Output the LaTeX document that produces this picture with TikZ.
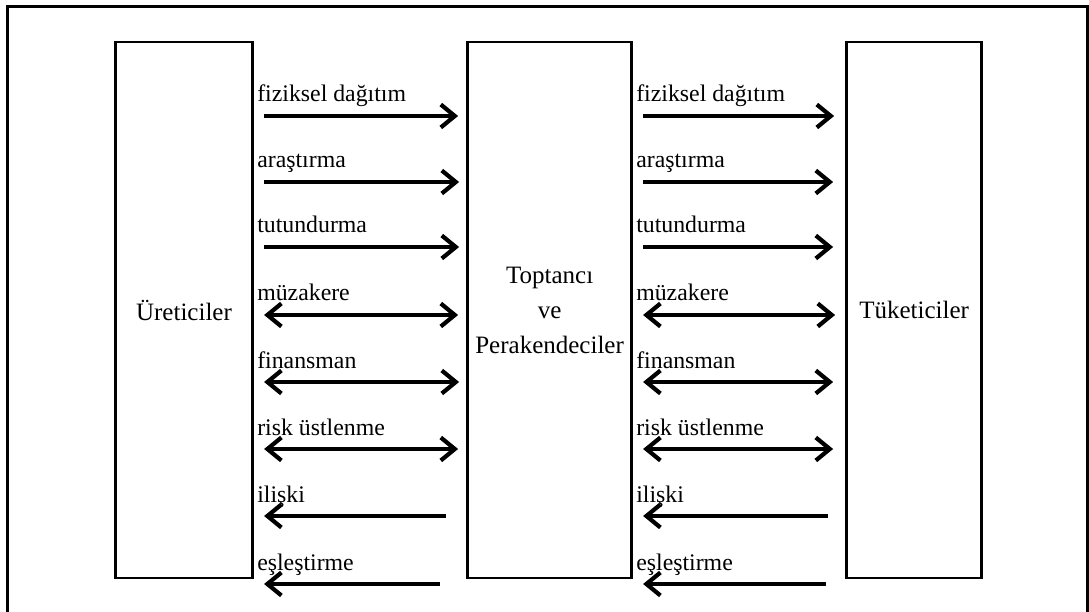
\documentclass[tikz,border=0pt]{standalone}
\usepackage{fontspec}
\setmainfont{Liberation Serif}
\usetikzlibrary{arrows.meta, positioning, calc}

\begin{document}
\begin{tikzpicture}[
  x=1pt, y=-1pt,
  % ── Style definitions ──
  party/.style={
    rectangle, draw=black, line width=2.7pt,
    minimum height=536pt, align=center, inner sep=0pt,
    font=\fontsize{25}{35}\selectfont
  },
  flowlbl/.style={anchor=base west, inner sep=0pt,
    font=\fontsize{23.8}{28}\selectfont},
  flow/.style   ={line width=4.2pt, black},
  toright/.style={flow, -{Straight Barb[length=14pt, width=23pt]}},
  toleft/.style ={flow, {Straight Barb[length=14pt, width=23pt]}-},
  twoway/.style ={flow, {Straight Barb[length=14pt, width=23pt]}-{Straight Barb[length=14pt, width=23pt]}},
  % ── Node placement ──
  node distance=212pt
]
\useasboundingbox (0,0) rectangle (1089,612);

% ─────────── Outer frame ────────────────────────────────────
\draw[line width=3pt] (7.5,612) -- (7.5,6.7) -- (1087.5,6.7) -- (1087.5,612);

% ─────────── Channel members ────────────────────────────────
\node[party, minimum width=137.5pt] (prod) at (184,310) {Üreticiler};
\node[party, minimum width=164.3pt, right=of prod] (mid)  {Toptancı\\ve\\Perakendeciler};
\node[party, minimum width=135.3pt, right=of mid]  (cons) {Tüketiciler};

% ─────────── Flows between the members ──────────────────────
% y / label / direction / gap before middle box / gap before right box
\foreach \y/\txt/\kind/\gapm/\gapc [count=\i] in {
    116/{fiziksel dağıtım}/toright/8/11,
    182/{araştırma}/toright/7/12,
    247/{tutundurma}/toright/7/12,
    315/{müzakere}/twoway/8/10,
    382/{finansman}/twoway/7/12,
    449/{risk üstlenme}/twoway/8/12,
    516/{ilişki}/toleft/20/17,
    584/{eşleştirme}/toleft/26/19}
{
  % producer -> wholesaler side
  \node[flowlbl] (pl\i) at ($(prod.east |- 0,\y)+(3,-14)$) {\txt};
  \draw[\kind] ($(prod.east |- 0,\y)+(10,0)$) -- ($(mid.west |- 0,\y)+(-\gapm,0)$);
  % wholesaler -> consumer side
  \node[flowlbl] (cl\i) at ($(mid.east |- 0,\y)+(3,-14)$) {\txt};
  \draw[\kind] ($(mid.east |- 0,\y)+(10,0)$) -- ($(cons.west |- 0,\y)+(-\gapc,0)$);
}
\end{tikzpicture}
\end{document}
